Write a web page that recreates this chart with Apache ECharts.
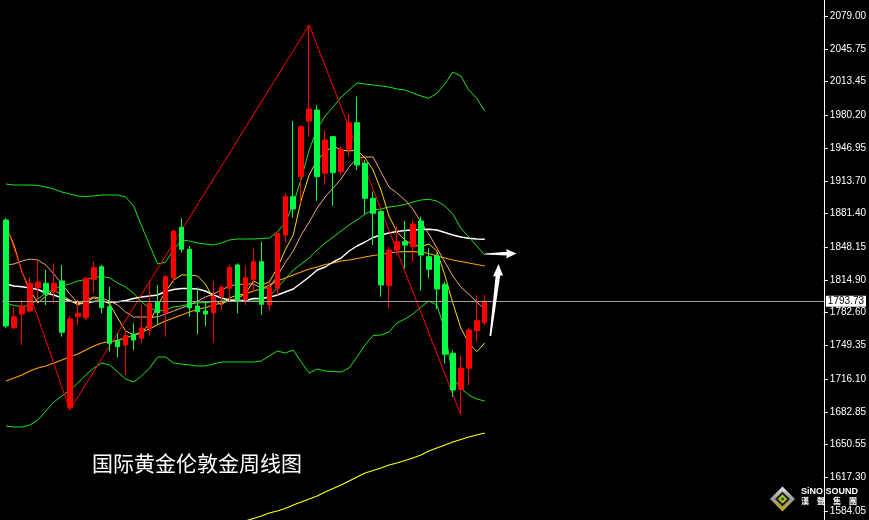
<!DOCTYPE html>
<html><head><meta charset="utf-8">
<script src="https://cdn.jsdelivr.net/npm/echarts@6/dist/echarts.min.js"></script>
<style>html,body{margin:0;padding:0;background:#000;}#c{width:869px;height:520px;}</style>
</head><body><div id="c"></div>
<script>
// ---- data (weekly gold) ----
const slotCount = 103; // number of week slots on the axis (61 drawn + empty right margin)
const weeks = Array.from({length: slotCount}, (_, i) => 'W' + (i + 1));

const opens = [1875,1767.3,1781,1784,1807.3,1811.7,1803.3,1814,1687.7,1778.3,
1777.3,1815.7,1828.3,1788.3,1754.3,1750,1761,1756.7,1766.7,1793.3,
1782.3,1817.3,1867.7,1845.7,1789,1784,1782.3,1798.3,1806.7,1830,
1795,1815.7,1833.3,1790,1806.7,1860,1898.3,1918.3,1974,1985,
1921.7,1958.3,1923.3,1945.7,1972.3,1931.7,1896.7,1883.3,1809.3,1845,
1853.3,1848.3,1874,1838.3,1839,1810.7,1741.7,1705.7,1726.7,1764.3,
1772.3];
const closes = [1769,1778.3,1789,1811.7,1813,1801,1811.7,1762.7,1776,1781.7,
1816.7,1827.3,1787.3,1751.7,1748.3,1759.3,1755,1767,1791.7,1782.3,
1818.3,1864,1845.7,1787.3,1783.3,1781,1798.3,1807.7,1827.7,1795,
1817.3,1833.3,1790.7,1807.3,1861.7,1898.3,1886,1968.3,1986,1918.3,
1955,1922.3,1945.7,1972.3,1930,1896.7,1881.7,1810,1845,1853.3,
1850,1871,1840,1825.7,1806,1740.7,1705,1726.7,1765,1774.3,
1793.73];
const lows = [1767,1765.7,1750,1783.3,1793.3,1790,1791.7,1758.3,1685,1770,
1775,1801.7,1781.7,1743.3,1737.7,1720,1745,1752,1759.3,1770,
1758.3,1812,1842.3,1778.3,1761,1769,1752.3,1785,1793.3,1781.7,
1790,1803.3,1780,1784.3,1800,1852.3,1877.3,1891.7,1958.3,1894.3,
1910,1889.3,1920,1938.3,1925,1881,1850,1798.3,1786.7,1840,
1826.7,1833.3,1804.3,1816.7,1785.7,1731.7,1698.3,1680,1710,1753.3,
1770];
const highs = [1877,1787.7,1795,1817.7,1834.3,1825,1831.7,1830,1779.3,1795,
1818.3,1833.3,1830,1808.3,1761.7,1765,1771.7,1790,1813.3,1810,
1820,1865,1876.7,1849,1807.7,1793.3,1814,1810,1830,1831.7,
1829.3,1846.7,1853.3,1812.3,1862,1901.7,1974,1970,2070,1990,
1965,1959,1949,1981.7,1998.3,1935,1903.3,1885,1848.3,1869,
1874,1875,1878.3,1846.7,1841.7,1813.3,1745,1739,1767.3,1800,
1800];

const bbUpper = [1911,1910,1910,1910,1909.5,1908,1906,1903,1901,1899,
1898.5,1899,1900,1900,1900,1898,1889,1869,1850,1831,
1833,1845,1855,1854,1852,1851,1850,1852,1855,1856,
1856,1856,1856.5,1857,1863,1872,1891,1916,1945,1966,
1979,1988,1998,2005,2012,2011,2010,2009,2008,2006,
2005,2002,1999,1996.7,2001.7,2011,2023,2019,2005,1996.7,
1984];
const bbMid = [1792,1789.5,1788.5,1789.5,1796,1802,1806,1809,1811,1814,
1815.5,1817.5,1818.5,1817,1812,1808,1802,1793,1787,1784,
1785,1788,1789,1791,1792,1792.5,1793,1794,1794.5,1795,
1795,1795,1795,1799,1807,1816,1825,1831,1837,1845,
1852,1858,1864,1870,1875,1881,1885,1886,1888,1889,
1890.5,1893,1895,1895.7,1894,1889,1881,1867,1858,1849,
1840];
const bbLower = [1669,1668,1668,1670,1675,1684,1693,1699,1705,1712,
1720,1727,1732,1730,1723,1716,1713,1719,1727,1738,
1738,1732,1731,1730,1729,1729,1731,1733,1733,1733,
1733,1733,1734,1739,1744,1742,1745,1733,1722,1726,
1724,1723.5,1723,1727,1738,1750,1759.5,1760,1763,1772,
1776,1781,1788,1794,1790,1765,1717,1707,1700,1696,
1694];
const ma5 = [1869,1850,1823,1805,1792,1799,1805,1800,1795,1790,
1793,1797,1795,1791,1777,1764,1760,1762,1772,1790,
1803,1815,1820,1820,1819,1811,1796,1790,1797,1800,
1801,1814,1810,1813,1827,1845,1860,1895,1920,1935,
1943,1949,1945,1944,1945,1937,1925,1905,1879,1863,
1855,1850,1848.5,1851,1844,1820,1792,1767,1752,1743.3,
1752];
const ma10 = [1830,1831,1834,1836,1835,1830,1821,1811,1801,1792,
1795,1798,1797,1794,1790,1783,1778,1778,1778,1778,
1781,1784,1787,1790,1794,1798,1801,1805,1809,1810.5,
1811,1811,1807,1807,1819,1832.5,1844,1860,1873,1887,
1898,1907,1916,1928,1937,1938,1938,1923,1908,1902,
1895,1886,1873,1861,1847,1833,1819,1808,1801,1793,
1786];
const maWhite = [1811,1809,1808.3,1807,1805.5,1802,1800,1797,1794,1792,
1791.7,1793.5,1794,1792.5,1793.3,1794.5,1796.5,1798,1799,1800,
1803.5,1805.5,1806.5,1806.5,1806,1804,1800,1797,1795,1793.5,
1794.5,1796.5,1796.7,1797.7,1800,1803,1806,1812,1818,1825,
1828,1833,1837,1844,1849,1853,1857.5,1860,1862,1863.5,
1864.5,1865,1865.5,1865.7,1865,1862.5,1860,1858,1856.7,1856,
1855.7];
const maOrange = [1714,1717,1720,1724,1727,1729,1732,1735,1738,1741,
1745,1749,1752,1753.3,1754.7,1757,1760,1763,1766,1770.5,
1774,1777,1780,1783,1785.5,1787.5,1790,1792,1794,1797,
1801,1804,1806,1810,1814,1817,1820,1823,1826,1828,
1830.5,1832,1834,1835,1836.5,1838,1839.5,1840.5,1842,1843,
1843.3,1843.3,1843,1841.5,1839,1837,1835,1833.5,1832,1830.5,
1829];
const maLong = [null,null,null,null,null,null,null,null,null,null,
null,null,null,null,null,null,null,null,null,null,
null,null,null,null,null,null,null,null,null,null,
1574,1576.5,1579,1582,1584,1586.5,1590,1593,1596,1599,
1603,1606.5,1610,1614,1618,1622,1624.5,1627,1630,1632,
1634.5,1637,1640,1644,1647,1650,1653,1655.5,1658,1660,
1662];
const zigzagIdx = [0, 8, 38, 57];
const zigzagVal = [1870, 1685, 2070, 1680];

const tickValues = [2079.00,2045.75,2013.45,1980.20,1946.95,1913.70,1881.40,1848.15,
1814.90,1782.60,1749.35,1716.10,1682.85,1650.55,1617.30,1584.05];
const currentPrice = 1793.73;
const titleText = '国际黄金伦敦金周线图';

// ---- chart ----
const candleData = opens.map((o, i) => [o, closes[i], lows[i], highs[i]]);
const chart = echarts.init(document.getElementById('c'), null, {renderer: 'canvas'});

function lineSeries(name, data, color, width) {
  return {name, type: 'line', data, symbol: 'none', silent: true, z: 2,
    lineStyle: {color, width}, itemStyle: {color}, animation: false};
}

const option = {
  backgroundColor: '#000000',
  animation: false,
  title: {
    text: titleText, left: 87, top: 448,
    textStyle: {color: '#ffffff', fontSize: 21, fontWeight: 'normal', fontFamily: 'Noto Sans CJK SC'}
  },
  grid: {left: 2, right: 42, top: 0, bottom: 0},
  xAxis: {
    type: 'category', data: weeks, show: false, boundaryGap: true
  },
  yAxis: {
    type: 'value', position: 'right', min: 1575, max: 2095,
    axisLine: {show: true, lineStyle: {color: '#ffffff', width: 1}},
    axisTick: {show: true, length: 4, customValues: tickValues, lineStyle: {color: '#ffffff'}},
    axisLabel: {customValues: tickValues, color: '#ffffff', fontSize: 10, margin: 6,
      fontFamily: 'Liberation Sans', formatter: v => v.toFixed(2)},
    splitLine: {show: false}
  },
  series: [
    lineSeries('BB upper', bbUpper, '#19e619', 1),
    lineSeries('BB mid', bbMid, '#19e619', 1),
    lineSeries('BB lower', bbLower, '#19e619', 1),
    lineSeries('MA long', maLong, '#ffff00', 1.2),
    lineSeries('MA orange', maOrange, '#ff9f00', 1.2),
    lineSeries('MA white', maWhite, '#ffffff', 1.4),
    lineSeries('MA10', ma10, '#f5a37f', 1),
    lineSeries('MA5', ma5, '#ffd400', 1),
    {
      name: 'ZigZag', type: 'line', symbol: 'none', silent: true, z: 2,
      data: zigzagIdx.map((ix, k) => [ix, zigzagVal[k]]),
      lineStyle: {color: '#ff0000', width: 1}
    },
    {
      name: 'XAUUSD', type: 'candlestick', data: candleData, barWidth: 5, z: 3,
      itemStyle: {color: '#ff0000', color0: '#00ff44', borderColor: '#ff0000', borderColor0: '#00ff44', borderWidth: 1},
      markLine: {
        silent: true, symbol: ['none', 'none'], animation: false,
        lineStyle: {color: '#a0a0a0', type: 'solid', width: 1},
        label: {show: true, position: 'end', distance: 2, formatter: () => currentPrice.toFixed(2),
          backgroundColor: '#ffffff', color: '#000000', padding: [1, 2, 0, 2], fontSize: 10, fontFamily: 'Liberation Sans'},
        emphasis: {disabled: true},
        data: [{yAxis: currentPrice}]
      }
    }
  ],
  graphic: [
    // annotation arrows
    {type: 'polygon', silent: true, z: 100,
      shape: {points: [[485,253.5],[507,251.8],[506,249],[516.5,253.6],[506,258.4],[507,255.6],[485,254.6]]},
      style: {fill: '#ffffff'}},
    {type: 'polygon', silent: true, z: 100,
      shape: {points: [[489.5,336],[495.6,276],[493,276.5],[498.5,264],[503,275.5],[500.2,275.6],[491.2,336]]},
      style: {fill: '#ffffff'}},
    // logo
    {type: 'group', silent: true, z: 100, children: [
      {type: 'polygon', shape: {points: [[782.5,486.5],[795,499],[782.5,511.5],[770,499]]},
        style: {fill: new echarts.graphic.LinearGradient(0,0,0,1,[{offset:0,color:'#e6e6e6'},{offset:0.5,color:'#9a9a9a'},{offset:1,color:'#c9a800'}])}},
      {type: 'polygon', shape: {points: [[782.5,491.5],[790,499],[782.5,506.5],[775,499]]}, style: {fill: '#222222'}},
      {type: 'polygon', shape: {points: [[782.5,494.5],[787,499],[782.5,503.5],[778,499]]}, style: {fill: '#b8d020'}},
      {type: 'circle', shape: {cx: 782.5, cy: 499, r: 1.8}, style: {fill: '#2f6a00'}},
      {type: 'text', left: 801, top: 487, style: {text: 'SiNO SOUND', fill: '#ffffff', font: 'bold 9px "Liberation Sans"'}},
      {type: 'text', left: 801, top: 497, style: {text: '漢　聲　集　團', fill: '#ffffff', font: 'bold 8px "Noto Sans CJK TC"'}}
    ]}
  ]
};
chart.setOption(option);
</script></body></html>
